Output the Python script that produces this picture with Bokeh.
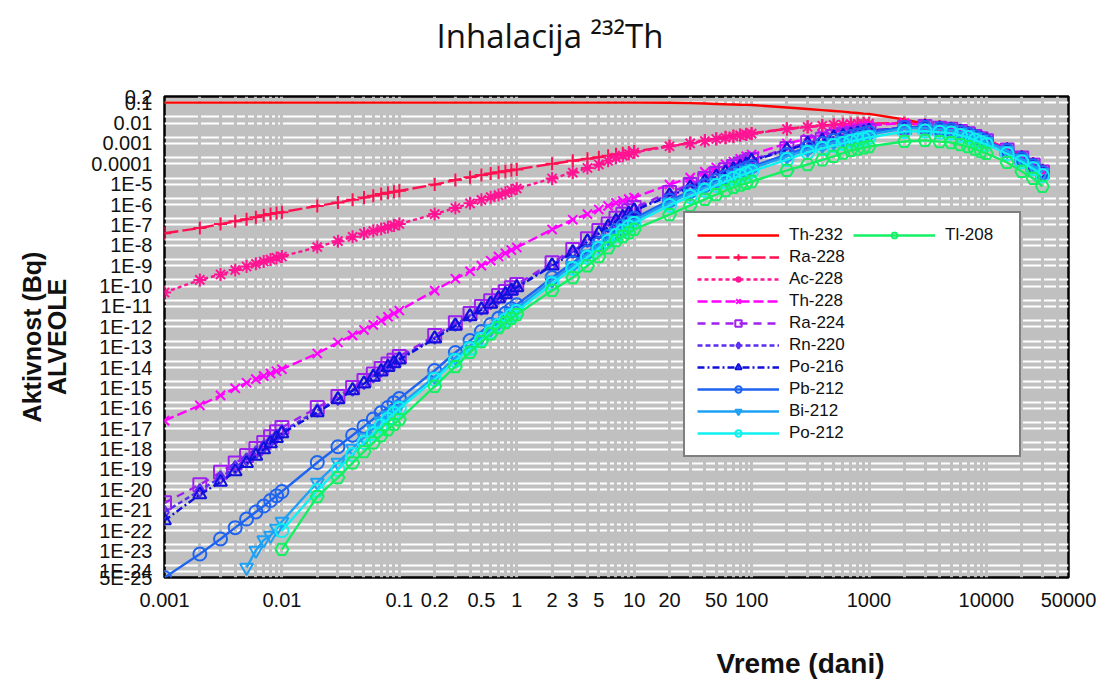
from bokeh.plotting import figure
from bokeh.models import (FixedTicker, CustomJSTickFormatter, Legend, LegendItem, Title, Range1d)
from bokeh.embed import file_html
from bokeh.resources import INLINE

# time grid (days)
T = [0.001, 0.002, 0.003, 0.004, 0.005, 0.006, 0.007, 0.008, 0.009,
     0.01, 0.02, 0.03, 0.04, 0.05, 0.06, 0.07, 0.08, 0.09,
     0.1, 0.2, 0.3, 0.4, 0.5, 0.6, 0.7, 0.8, 0.9,
     1, 2, 3, 4, 5, 6, 7, 8, 9,
     10, 20, 30, 40, 50, 60, 70, 80, 90,
     100, 200, 300, 400, 500, 600, 700, 800, 900,
     1000, 2000, 3000, 4000, 5000, 6000, 7000, 8000, 9000,
     10000, 15000, 20000, 25000, 30000]

TH232 = [0.1, 0.1, 0.1, 0.1, 0.1, 0.1, 0.1, 0.1, 0.1,
         0.1, 0.1, 0.1, 0.1, 0.1, 0.1, 0.1, 0.1, 0.1,
         0.1, 0.1, 0.1, 0.1, 0.1, 0.1, 0.1, 0.1, 0.1,
         0.1, 0.1, 0.1, 0.1, 0.1, 0.1, 0.1, 0.1, 0.1,
         0.1, 0.098, 0.095, 0.09, 0.086, 0.083, 0.081, 0.079, 0.078,
         0.077, 0.058, 0.049, 0.043, 0.039, 0.036, 0.033, 0.031, 0.029,
         0.028, 0.0149, 0.0089, 0.0063, 0.0048, 0.0038, 0.0031, 0.0024, 0.0019,
         0.00155, 5.6e-4, 2.5e-4, 1.16e-4, 5.2e-5]
RA228 = [3.9e-8, 7.0e-8, 1.1e-7, 1.5e-7, 1.9e-7, 2.4e-7, 3.0e-7, 3.4e-7, 3.8e-7,
         4.2e-7, 8.5e-7, 1.25e-6, 1.7e-6, 2.2e-6, 2.7e-6, 3.3e-6, 3.8e-6, 4.2e-6,
         4.7e-6, 9.5e-6, 1.6e-5, 2.2e-5, 2.8e-5, 3.3e-5, 3.8e-5, 4.3e-5, 4.8e-5,
         5.3e-5, 1.0e-4, 1.4e-4, 1.75e-4, 2.1e-4, 2.5e-4, 2.9e-4, 3.3e-4, 3.6e-4,
         4.0e-4, 7.5e-4, 1.05e-3, 1.4e-3, 1.7e-3, 2.0e-3, 2.3e-3, 2.6e-3, 2.8e-3,
         3.1e-3, 5.2e-3, 6.6e-3, 7.5e-3, 8.2e-3, 8.6e-3, 9.0e-3, 9.2e-3, 9.4e-3,
         9.6e-3, 9.8e-3, 8.3e-3, 6.7e-3, 5.6e-3, 4.3e-3, 3.4e-3, 2.5e-3, 1.9e-3,
         1.5e-3, 5.4e-4, 2.2e-4, 1.0e-4, 4.6e-5]
AC228 = [4.8e-11, 2.0e-10, 3.7e-10, 6.1e-10, 9.1e-10, 1.24e-9, 1.6e-9, 2.0e-9, 2.4e-9,
         2.8e-9, 8.2e-9, 1.6e-8, 2.6e-8, 3.8e-8, 5.0e-8, 6.3e-8, 7.8e-8, 9.3e-8,
         1.1e-7, 3.4e-7, 6.8e-7, 1.14e-6, 1.7e-6, 2.3e-6, 2.9e-6, 3.8e-6, 4.9e-6,
         6.1e-6, 1.9e-5, 3.7e-5, 6.2e-5, 9.2e-5, 1.4e-4, 2.0e-4, 2.5e-4, 3.0e-4,
         3.6e-4, 7.2e-4, 1.0e-3, 1.3e-3, 1.65e-3, 1.9e-3, 2.2e-3, 2.5e-3, 2.7e-3,
         3.0e-3, 5.0e-3, 6.4e-3, 7.3e-3, 8.0e-3, 8.4e-3, 8.8e-3, 9.0e-3, 9.2e-3,
         9.4e-3, 9.6e-3, 8.1e-3, 6.4e-3, 5.4e-3, 4.1e-3, 3.3e-3, 2.4e-3, 1.85e-3,
         1.45e-3, 5.2e-4, 2.1e-4, 9.6e-5, 4.4e-5]
TH228 = [2.5e-17, 1.4e-16, 4.3e-16, 9.6e-16, 1.8e-15, 2.7e-15, 3.8e-15, 5.1e-15, 6.6e-15,
         8.3e-15, 4.9e-14, 1.7e-13, 3.8e-13, 7.0e-13, 1.24e-12, 2.0e-12, 3.1e-12, 4.5e-12,
         6.3e-12, 6.0e-11, 2.3e-10, 5.3e-10, 1.0e-9, 1.75e-9, 2.8e-9, 4.1e-9, 5.8e-9,
         7.8e-9, 6.0e-8, 1.8e-7, 3.4e-7, 5.7e-7, 8.5e-7, 1.2e-6, 1.5e-6, 1.85e-6,
         2.2e-6, 9.6e-6, 2.1e-5, 4.0e-5, 6.6e-5, 9.5e-5, 1.3e-4, 1.75e-4, 2.3e-4,
         2.85e-4, 9.9e-4, 1.7e-3, 2.7e-3, 3.8e-3, 4.6e-3, 5.4e-3, 6.1e-3, 6.9e-3,
         7.6e-3, 1.0e-2, 8.0e-3, 6.3e-3, 5.2e-3, 4.0e-3, 3.2e-3, 2.35e-3, 1.8e-3,
         1.4e-3, 5.0e-4, 2.0e-4, 9.2e-5, 4.2e-5]
RA224 = [2.3e-21, 1.8e-20, 7.3e-20, 2.1e-19, 4.8e-19, 1.07e-18, 2.1e-18, 4.0e-18, 7.0e-18,
         1.15e-17, 1.1e-16, 3.8e-16, 1.05e-15, 2.3e-15, 4.8e-15, 9.0e-15, 1.5e-14, 2.3e-14,
         3.5e-14, 3.7e-13, 1.6e-12, 4.5e-12, 9.9e-12, 1.9e-11, 3.4e-11, 5.4e-11, 8.2e-11,
         1.2e-10, 1.4e-9, 6.2e-9, 2.1e-8, 5.3e-8, 1.1e-7, 2.1e-7, 3.3e-7, 4.9e-7,
         7.1e-7, 3.9e-6, 9.6e-6, 1.9e-5, 3.3e-5, 5.1e-5, 7.3e-5, 9.8e-5, 1.27e-4,
         1.6e-4, 5.6e-4, 1.1e-3, 1.6e-3, 2.2e-3, 2.65e-3, 3.1e-3, 3.5e-3, 3.9e-3,
         4.3e-3, 6.0e-3, 6.7e-3, 5.6e-3, 4.9e-3, 3.8e-3, 3.0e-3, 2.2e-3, 1.7e-3,
         1.35e-3, 4.8e-4, 1.9e-4, 8.8e-5, 4.0e-5]
RN220 = [8.0e-22, 9.3e-21, 4.0e-20, 1.27e-19, 3.1e-19, 6.7e-19, 1.3e-18, 2.5e-18, 4.4e-18,
         7.3e-18, 7.8e-17, 3.0e-16, 8.4e-16, 1.8e-15, 3.8e-15, 7.2e-15, 1.2e-14, 1.85e-14,
         2.8e-14, 3.0e-13, 1.3e-12, 3.6e-12, 7.9e-12, 1.5e-11, 2.7e-11, 4.3e-11, 6.6e-11,
         9.6e-11, 1.1e-9, 5.0e-9, 1.7e-8, 4.2e-8, 8.8e-8, 1.7e-7, 2.6e-7, 3.9e-7,
         5.7e-7, 3.1e-6, 7.7e-6, 1.5e-5, 2.6e-5, 4.1e-5, 5.8e-5, 7.8e-5, 1.0e-4,
         1.45e-4, 5.0e-4, 1.0e-3, 1.45e-3, 2.0e-3, 2.4e-3, 2.8e-3, 3.15e-3, 3.5e-3,
         4.1e-3, 5.8e-3, 6.4e-3, 5.4e-3, 4.7e-3, 3.65e-3, 2.9e-3, 2.1e-3, 1.63e-3,
         1.3e-3, 4.6e-4, 1.8e-4, 8.4e-5, 3.8e-5]
PO216 = [3.1e-22, 5.9e-21, 2.4e-20, 7.9e-20, 2.0e-19, 4.6e-19, 9.5e-19, 1.9e-18, 3.4e-18,
         5.8e-18, 6.2e-17, 2.7e-16, 7.4e-16, 1.6e-15, 3.4e-15, 6.3e-15, 1.05e-14, 1.6e-14,
         2.45e-14, 2.6e-13, 1.1e-12, 3.2e-12, 6.9e-12, 1.3e-11, 2.4e-11, 3.8e-11, 5.7e-11,
         8.4e-11, 9.8e-10, 4.3e-9, 1.5e-8, 3.7e-8, 7.7e-8, 1.5e-7, 2.3e-7, 3.4e-7,
         5.0e-7, 2.7e-6, 6.7e-6, 1.3e-5, 2.3e-5, 3.6e-5, 5.1e-5, 6.9e-5, 8.9e-5,
         1.36e-4, 4.8e-4, 9.4e-4, 1.36e-3, 1.9e-3, 2.25e-3, 2.6e-3, 3.0e-3, 3.3e-3,
         4.0e-3, 5.6e-3, 6.3e-3, 5.3e-3, 4.6e-3, 3.6e-3, 2.8e-3, 2.1e-3, 1.6e-3,
         1.27e-3, 4.5e-4, 1.8e-4, 8.3e-5, 3.8e-5]
PB212 = [5.0e-25, 7.1e-24, 3.9e-23, 1.4e-22, 3.7e-22, 8.2e-22, 1.6e-21, 3.0e-21, 5.1e-21,
         8.3e-21, 2.2e-19, 1.3e-18, 4.8e-18, 1.3e-17, 3.0e-17, 6.2e-17, 1.1e-16, 1.9e-16,
         3.0e-16, 7.2e-15, 5.5e-14, 2.1e-13, 5.9e-13, 1.3e-12, 2.6e-12, 4.6e-12, 7.6e-12,
         1.2e-11, 2.6e-10, 1.4e-9, 4.7e-9, 1.2e-8, 2.7e-8, 5.3e-8, 8.9e-8, 1.4e-7,
         2.1e-7, 1.6e-6, 4.4e-6, 8.8e-6, 1.5e-5, 2.3e-5, 3.3e-5, 4.4e-5, 5.8e-5,
         7.3e-5, 2.85e-4, 6.3e-4, 9.9e-4, 1.4e-3, 1.8e-3, 2.2e-3, 2.6e-3, 3.0e-3,
         3.4e-3, 6.0e-3, 6.0e-3, 5.2e-3, 4.6e-3, 3.5e-3, 2.8e-3, 2.1e-3, 1.6e-3,
         1.25e-3, 4.5e-4, 1.75e-4, 8.1e-5, 3.7e-5]
# Bi-212 is plotted from 0.005 d, Po-212 and Tl-208 from 0.01 d
BI212 = [1.55e-24, 1.06e-23, 3.5e-23, 5.8e-23, 1.27e-22,
         2.8e-22, 2.3e-20, 2.2e-19, 1.08e-18, 3.7e-18, 1.0e-17, 2.3e-17, 4.5e-17, 8.2e-17,
         1.4e-16, 3.6e-15, 3.1e-14, 1.17e-13, 3.3e-13, 7.8e-13, 1.6e-12, 2.9e-12, 4.9e-12,
         7.9e-12, 1.9e-10, 1.0e-9, 3.6e-9, 9.8e-9, 2.15e-8, 4.2e-8, 6.9e-8, 1.07e-7,
         1.6e-7, 1.26e-6, 3.5e-6, 7.0e-6, 1.2e-5, 1.86e-5, 2.7e-5, 3.6e-5, 4.7e-5,
         5.9e-5, 2.3e-4, 5.0e-4, 7.8e-4, 1.1e-3, 1.4e-3, 1.7e-3, 2.0e-3, 2.35e-3,
         2.7e-3, 5.4e-3, 5.6e-3, 4.9e-3, 4.4e-3, 3.4e-3, 2.7e-3, 2.0e-3, 1.5e-3,
         1.2e-3, 4.3e-4, 1.7e-4, 7.8e-5, 3.6e-5]
PO212 = [1.0e-22, 9.3e-21, 1.0e-19, 5.5e-19, 2.1e-18, 5.9e-18, 1.4e-17, 2.9e-17, 5.5e-17,
         9.8e-17, 2.6e-15, 2.2e-14, 8.4e-14, 2.4e-13, 5.6e-13, 1.16e-12, 2.1e-12, 3.5e-12,
         5.6e-12, 1.3e-10, 7.3e-10, 2.6e-9, 7.0e-9, 1.54e-8, 3.0e-8, 5.0e-8, 7.9e-8,
         1.2e-7, 9.0e-7, 2.5e-6, 5.0e-6, 8.6e-6, 1.32e-5, 1.9e-5, 2.6e-5, 3.3e-5,
         4.2e-5, 1.6e-4, 3.6e-4, 5.6e-4, 7.9e-4, 1.0e-3, 1.24e-3, 1.47e-3, 1.7e-3,
         1.95e-3, 3.8e-3, 4.0e-3, 3.5e-3, 3.2e-3, 2.45e-3, 1.95e-3, 1.45e-3, 1.1e-3,
         8.8e-4, 3.1e-4, 1.25e-4, 5.7e-5, 2.6e-5]
TL208 = [1.2e-23, 4.7e-21, 4.0e-20, 2.1e-19, 7.6e-19, 2.0e-18, 4.6e-18, 9.0e-18, 1.64e-17,
         2.8e-17, 1.2e-15, 1.1e-14, 5.5e-14, 1.9e-13, 4.5e-13, 9.2e-13, 1.6e-12, 2.6e-12,
         4.0e-12, 6.1e-11, 2.6e-10, 9.9e-10, 2.8e-9, 7.4e-9, 1.7e-8, 2.7e-8, 4.1e-8,
         6.0e-8, 3.2e-7, 9.0e-7, 1.8e-6, 3.1e-6, 4.8e-6, 6.9e-6, 8.9e-6, 1.1e-5,
         1.35e-5, 4.7e-5, 9.2e-5, 1.54e-4, 2.3e-4, 3.3e-4, 4.5e-4, 5.3e-4, 6.1e-4,
         7.0e-4, 1.24e-3, 1.4e-3, 1.22e-3, 1.1e-3, 8.6e-4, 7.0e-4, 5.2e-4, 4.0e-4,
         3.2e-4, 1.16e-4, 4.2e-5, 1.9e-5, 7.7e-6]

NAMES = ["Th-232", "Ra-228", "Ac-228", "Th-228", "Ra-224", "Rn-220", "Po-216",
         "Pb-212", "Bi-212", "Po-212", "Tl-208"]
SERIES = [TH232, RA228, AC228, TH228, RA224, RN220, PO216, PB212, BI212, PO212, TL208]

X_TICKS = [0.001, 0.01, 0.1, 0.2, 0.5, 1, 2, 3, 5, 10, 20, 50, 100, 1000, 10000, 50000]
X_LABELS = ["0.001", "0.01", "0.1", "0.2", "0.5", "1", "2", "3", "5", "10", "20", "50",
            "100", "1000", "10000", "50000"]
Y_TICKS = [0.2, 0.1, 0.01, 0.001, 0.0001] + [10.0 ** -k for k in range(5, 25)] + [5e-25]
Y_LABELS = ["0.2", "0.1", "0.01", "0.001", "0.0001"] + ["1E-%d" % k for k in range(5, 25)] + ["5E-25"]

TITLE = "Inhalacija \u00b2\u00b3\u00b2Th"
X_TITLE = "Vreme (dani)"
Y_TITLE = "Aktivnost (Bq)\nALVEOLE"

STYLES = [
    dict(color="#FF0000", marker=None, dash="solid"),
    dict(color="#FF1050", marker="cross", dash="14 4"),
    dict(color="#FF1493", marker="asterisk", dash="4 3"),
    dict(color="#FF00FF", marker="x", dash="10 4"),
    dict(color="#A020F0", marker="square", dash="8 6"),
    dict(color="#5A2DF0", marker="diamond", dash="5 3"),
    dict(color="#1010DC", marker="triangle", dash="7 3 2 3"),
    dict(color="#1E64F0", marker="circle", dash="solid"),
    dict(color="#1EA0F5", marker="inverted_triangle", dash="solid"),
    dict(color="#10F0F0", marker="circle", dash="solid"),
    dict(color="#14F064", marker="hex", dash="solid"),
]

for v in SERIES:
    assert len(v) in (len(T), len(T) - 4, len(T) - 9), len(v)

p = figure(width=1104, height=687, x_axis_type="log", y_axis_type="log",
           x_range=Range1d(0.001, 50000), y_range=Range1d(5e-25, 0.2),
           output_backend="svg", toolbar_location=None,
           min_border_left=164, min_border_right=36, min_border_top=96, min_border_bottom=110)

p.background_fill_color = "#C0C0C0"
p.border_fill_color = "white"
p.outline_line_color = "black"
p.outline_line_width = 2.5

# grid: white horizontal lines, grey vertical lines cutting them
dec_y = [10.0 ** -k for k in range(0, 25)]
p.ygrid.ticker = FixedTicker(ticks=dec_y, minor_ticks=[2 * v for v in dec_y])
p.ygrid.grid_line_color = "white"
p.ygrid.grid_line_width = 2
p.ygrid.minor_grid_line_color = "white"
p.ygrid.minor_grid_line_width = 2
p.ygrid.level = "image"
dec_x = [10.0 ** k for k in range(-3, 5)]
p.xgrid.ticker = FixedTicker(ticks=dec_x, minor_ticks=[m * v for v in dec_x for m in range(2, 10)])
p.xgrid.grid_line_color = "#C0C0C0"
p.xgrid.grid_line_width = 3
p.xgrid.minor_grid_line_color = "#C0C0C0"
p.xgrid.minor_grid_line_width = 3

fmt_code = """
for (let i = 0; i < vals.length; i++) {
  if (Math.abs(Math.log10(vals[i]) - Math.log10(tick)) < 1e-6) return labs[i];
}
return "";
"""
for ax, ticks, labs in ((p.xaxis[0], X_TICKS, X_LABELS), (p.yaxis[0], Y_TICKS, Y_LABELS)):
    ax.ticker = FixedTicker(ticks=ticks, minor_ticks=[])
    ax.formatter = CustomJSTickFormatter(args=dict(vals=ticks, labs=labs), code=fmt_code)
    ax.major_tick_line_color = None
    ax.minor_tick_line_color = None
    ax.major_tick_out = 0
    ax.major_tick_in = 0
    ax.minor_tick_out = 0
    ax.axis_line_color = None
    ax.major_label_text_font = "Liberation Sans"
    ax.major_label_text_font_size = "20px"
    ax.major_label_text_color = "#111111"

p.xaxis.major_label_standoff = 15
p.yaxis.major_label_standoff = 12
p.yaxis.axis_label = Y_TITLE
p.yaxis.axis_label_text_font = "Liberation Sans"
p.yaxis.axis_label_text_font_size = "25px"
p.yaxis.axis_label_text_font_style = "bold"
p.yaxis.axis_label_text_line_height = 0.92
p.yaxis.axis_label_text_color = "#111111"
p.yaxis.axis_label_standoff = 17

# titles: a blank spacer next to the frame, then the visible title further out
p.title.text = ""
p.add_layout(Title(text=" ", text_font_size="10px", standoff=26), "above")
p.add_layout(Title(text=TITLE, align="left", offset=272, standoff=0,
                   text_font="Open Sans", text_font_size="33px", text_font_style="normal",
                   text_color="#111111"), "above")
p.add_layout(Title(text=" ", text_font_size="10px", standoff=23), "below")
p.add_layout(Title(text=X_TITLE, align="left", offset=552, standoff=0,
                   text_font="Liberation Sans", text_font_size="28px", text_font_style="bold",
                   text_color="#111111"), "below")

items = []
for name, vals, st in zip(NAMES, SERIES, STYLES):
    ts = T[len(T) - len(vals):]
    rs = [p.line(ts, vals, line_color=st["color"], line_width=2.4, line_dash=st["dash"])]
    if st["marker"]:
        rs.append(p.scatter(ts, vals, marker=st["marker"], size=13, line_color=st["color"],
                            fill_color=None, line_width=2))
    items.append(LegendItem(label=name, renderers=rs))

legend = Legend(items=items, nrows=10, location=(519, 120), margin=0,
                padding=12, spacing=2, glyph_width=82, glyph_height=16,
                label_height=16, label_width=62, label_standoff=10,
                label_text_font="Liberation Sans", label_text_font_size="17px",
                label_text_color="#111111",
                border_line_color="black", border_line_width=2.5,
                background_fill_color="white", background_fill_alpha=1.0)
p.add_layout(legend, "center")

open("out.html", "w").write(file_html(p, INLINE))
